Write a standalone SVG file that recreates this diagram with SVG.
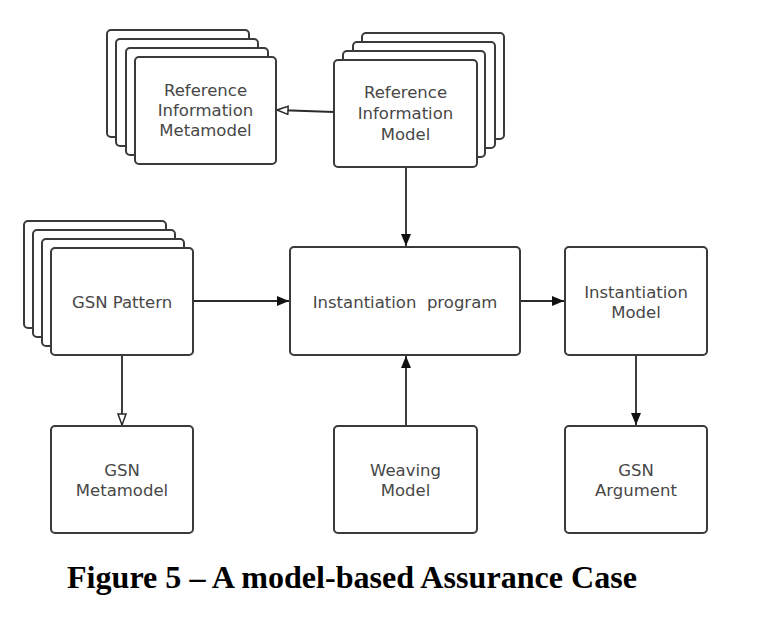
<svg xmlns="http://www.w3.org/2000/svg" width="766" height="618" viewBox="0 0 766 618">
<style>
  .box { fill: #ffffff; stroke: #3a3a3a; stroke-width: 2; }
  .lbl { font-family: "DejaVu Sans", "Liberation Sans", sans-serif; font-size: 16.5px; fill: #474747; text-anchor: middle; white-space: pre; }
  .conn { stroke: #2a2a2a; stroke-width: 1.8; fill: none; }
  .cap { font-family: "Liberation Serif", "Times New Roman", serif; font-weight: bold; font-size: 32px; fill: #000000; }
</style>
<defs>
  <marker id="filled" markerUnits="userSpaceOnUse" markerWidth="14" markerHeight="12" refX="12" refY="5" orient="auto">
    <path d="M0,0 L12,5 L0,10 z" fill="#111111"/>
  </marker>
  <marker id="hollow" markerUnits="userSpaceOnUse" markerWidth="14" markerHeight="12" refX="12" refY="5" orient="auto">
    <path d="M1,1 L12,5 L1,9 z" fill="#ffffff" stroke="#2a2a2a" stroke-width="1.5"/>
  </marker>
</defs>
<rect width="766" height="618" fill="#ffffff"/>

<g id="connectors">
  <line class="conn" x1="334" y1="112" x2="277" y2="110" marker-end="url(#hollow)"/>
  <line class="conn" x1="406" y1="167" x2="406" y2="246" marker-end="url(#filled)"/>
  <line class="conn" x1="193" y1="301" x2="289" y2="301" marker-end="url(#filled)"/>
  <line class="conn" x1="520" y1="301" x2="564" y2="301" marker-end="url(#filled)"/>
  <line class="conn" x1="406" y1="426" x2="406" y2="356" marker-end="url(#filled)"/>
  <line class="conn" x1="636" y1="355" x2="636" y2="425" marker-end="url(#filled)"/>
  <line class="conn" x1="122" y1="355" x2="122" y2="425" marker-end="url(#hollow)"/>
</g>

<g id="ref-info-metamodel">
  <rect class="box" x="107" y="30" width="142" height="107" rx="4"/>
  <rect class="box" x="116" y="39" width="142" height="107" rx="4"/>
  <rect class="box" x="126" y="48" width="142" height="107" rx="4"/>
  <rect class="box" x="135" y="57" width="141" height="107" rx="4"/>
  <text class="lbl" x="205.5" y="96">Reference</text>
  <text class="lbl" x="205.5" y="116">Information</text>
  <text class="lbl" x="205.5" y="136">Metamodel</text>
</g>

<g id="ref-info-model">
  <rect class="box" x="362" y="33" width="142" height="106" rx="4"/>
  <rect class="box" x="353" y="42" width="142" height="106" rx="4"/>
  <rect class="box" x="343" y="51" width="142" height="106" rx="4"/>
  <rect class="box" x="334" y="60" width="143" height="107" rx="4"/>
  <text class="lbl" x="405.5" y="98">Reference</text>
  <text class="lbl" x="405.5" y="119">Information</text>
  <text class="lbl" x="405.5" y="140">Model</text>
</g>

<g id="gsn-pattern">
  <rect class="box" x="24" y="221" width="142" height="107" rx="4"/>
  <rect class="box" x="33" y="230" width="142" height="107" rx="4"/>
  <rect class="box" x="42" y="239" width="142" height="107" rx="4"/>
  <rect class="box" x="51" y="248" width="142" height="107" rx="4"/>
  <text class="lbl" x="122" y="308">GSN Pattern</text>
</g>

<g id="instantiation-program">
  <rect class="box" x="290" y="247" width="230" height="108" rx="4"/>
  <text class="lbl" x="405" y="308">Instantiation  program</text>
</g>

<g id="instantiation-model">
  <rect class="box" x="565" y="247" width="142" height="108" rx="4"/>
  <text class="lbl" x="636" y="298">Instantiation</text>
  <text class="lbl" x="636" y="318">Model</text>
</g>

<g id="gsn-metamodel">
  <rect class="box" x="51" y="426" width="142" height="107" rx="4"/>
  <text class="lbl" x="122" y="476">GSN</text>
  <text class="lbl" x="122" y="496">Metamodel</text>
</g>

<g id="weaving-model">
  <rect class="box" x="334" y="426" width="143" height="107" rx="4"/>
  <text class="lbl" x="405.5" y="476">Weaving</text>
  <text class="lbl" x="405.5" y="496">Model</text>
</g>

<g id="gsn-argument">
  <rect class="box" x="565" y="426" width="142" height="107" rx="4"/>
  <text class="lbl" x="636" y="476">GSN</text>
  <text class="lbl" x="636" y="496">Argument</text>
</g>

<text class="cap" x="67" y="588" textLength="570" lengthAdjust="spacingAndGlyphs">Figure 5 – A model-based Assurance Case</text>
</svg>
